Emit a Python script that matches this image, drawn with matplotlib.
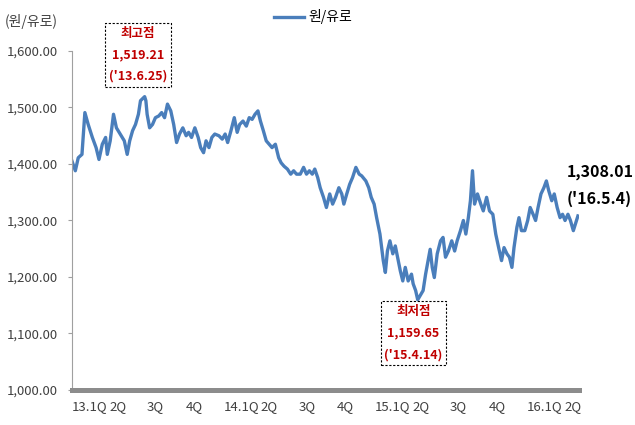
import pandas as pd
import matplotlib
matplotlib.use('Agg')
from matplotlib import pyplot as plt

plt.rcParams['font.family'] = ['Noto Sans CJK KR', 'DejaVu Sans']

# KRW per EUR (days counted from 2013-01-01)
start = pd.Timestamp('2013-01-01')
day_offsets = [0, 8, 15, 24, 31, 39, 49, 58, 65, 73, 81, 85, 92, 100, 107, 116, 126, 133, 139, 146,
               153, 160, 165, 175, 178, 181, 187, 194, 201, 209, 216, 223, 230, 238, 245, 252, 259, 267,
               275, 281, 288, 296, 304, 310, 317, 323, 330, 337, 344, 354, 362, 369, 375, 383, 391, 398,
               404, 412, 420, 427, 434, 441, 448, 454, 461, 468, 475, 482, 490, 498, 504, 511, 519, 527,
               534, 541, 550, 558, 565, 572, 579, 585, 592, 598, 606, 613, 621, 628, 635, 643, 650, 655,
               662, 669, 676, 684, 692, 698, 708, 715, 721, 728, 734, 742, 750, 755, 760, 766, 773, 779,
               786, 791, 797, 803, 810, 818, 822, 828, 833, 846, 852, 858, 863, 868, 873, 880, 888, 894,
               900, 907, 915, 922, 928, 936, 943, 949, 955, 960, 965, 970, 977, 985, 991, 999, 1006, 1014,
               1021, 1028, 1035, 1041, 1048, 1054, 1060, 1065, 1072, 1077, 1083, 1091, 1098, 1104, 1111,
               1117, 1123, 1130, 1137, 1143, 1149, 1156, 1162, 1169, 1176, 1182, 1188, 1195, 1201, 1208,
               1213, 1219]
krw_per_eur = [1405, 1388, 1411, 1417, 1491, 1470, 1447, 1429, 1408, 1435, 1447, 1417, 1441, 1488, 1464,
               1453, 1441, 1417, 1441, 1459, 1470, 1488, 1512, 1519.21, 1512, 1488, 1464, 1470, 1482, 1485,
               1491, 1482, 1506, 1494, 1470, 1438, 1453, 1464, 1450, 1456, 1447, 1464, 1447, 1429, 1420,
               1441, 1429, 1447, 1453, 1450, 1444, 1453, 1438, 1459, 1482, 1456, 1470, 1476, 1467, 1482,
               1479, 1488, 1494, 1476, 1459, 1441, 1435, 1429, 1435, 1411, 1402, 1396, 1391, 1382, 1388,
               1382, 1382, 1394, 1382, 1388, 1382, 1391, 1376, 1358, 1341, 1323, 1347, 1329, 1341, 1358,
               1347, 1329, 1347, 1364, 1376, 1394, 1382, 1379, 1370, 1358, 1341, 1329, 1305, 1276, 1229,
               1208, 1246, 1264, 1241, 1255, 1229, 1211, 1193, 1217, 1193, 1205, 1188, 1176, 1159.65, 1176,
               1205, 1229, 1249, 1217, 1199, 1241, 1264, 1270, 1235, 1246, 1264, 1246, 1264, 1282, 1300,
               1276, 1305, 1335, 1388, 1329, 1347, 1329, 1317, 1341, 1317, 1311, 1276, 1252, 1229, 1252,
               1241, 1235, 1217, 1252, 1288, 1305, 1282, 1282, 1300, 1323, 1311, 1300, 1323, 1347, 1358,
               1370, 1352, 1335, 1347, 1323, 1305, 1311, 1300, 1311, 1300, 1282, 1294, 1308.01]

quarter_starts = ['2013-01-01', '2013-04-01', '2013-07-01', '2013-10-01',
                  '2014-01-01', '2014-04-01', '2014-07-01', '2014-10-01',
                  '2015-01-01', '2015-04-01', '2015-07-01', '2015-10-01',
                  '2016-01-01', '2016-04-01']
quarter_labels = ['13.1Q', '2Q', '3Q', '4Q', '14.1Q', '2Q', '3Q', '4Q',
                  '15.1Q', '2Q', '3Q', '4Q', '16.1Q', '2Q']
y_ticks = [1000, 1100, 1200, 1300, 1400, 1500, 1600]

dates = start + pd.to_timedelta(day_offsets, unit='D')

fig = plt.figure(figsize=(6.35, 4.25), dpi=100)
ax = fig.add_axes([0.1134, 0.0824, 0.798, 0.7976])

line_color = '#4a7ebb'
ax.plot(dates, krw_per_eur, color=line_color, lw=2.4, label='원/유로', solid_joinstyle='round')

ax.set_ylim(1000, 1600)
ax.set_xlim(start, pd.Timestamp('2016-05-06'))

ax.set_yticks(y_ticks)
ax.set_yticklabels(['{:,.2f}'.format(v) for v in y_ticks])
ax.set_xticks(pd.to_datetime(quarter_starts))
ax.set_xticklabels(quarter_labels, ha='left')

ax.tick_params(axis='y', length=3, color='#a0a0a0', pad=7, labelsize=9.5, labelcolor='#404040')
ax.tick_params(axis='x', length=0, pad=7, labelsize=9.5, labelcolor='#404040')

for s in ['top', 'right']:
    ax.spines[s].set_visible(False)
ax.spines['left'].set_color('#a0a0a0')
ax.spines['left'].set_linewidth(0.8)
ax.spines['bottom'].set_color('#8c8c8c')
ax.spines['bottom'].set_linewidth(3.6)
ax.spines['bottom'].set_zorder(3)

ax.text(-0.133, 1.087, '(원/유로)', transform=ax.transAxes, ha='left', va='center',
        fontsize=10, color='#404040')

fig.legend(loc='center', bbox_to_anchor=(0.493, 0.96), frameon=False, fontsize=10,
           handlelength=2.2, handletextpad=0.3)

# annotations
box = dict(boxstyle='square,pad=0.3', fc='white', ec='black', lw=0.8, ls=(0, (2, 1.5)))
hi = krw_per_eur.index(max(krw_per_eur))
lo = krw_per_eur.index(min(krw_per_eur))
ax.annotate("최고점\n{:,.2f}\n('13.6.25)".format(krw_per_eur[hi]),
            xy=(dates[hi], krw_per_eur[hi]), xytext=(-5, 30), textcoords='offset points',
            ha='center', va='center', fontsize=9, color='#c00000', fontweight='bold',
            linespacing=1.85, bbox=box, annotation_clip=False)
ax.annotate("최저점\n{:,.2f}\n('15.4.14)".format(krw_per_eur[lo]),
            xy=(dates[lo], krw_per_eur[lo]), xytext=(-3, -24), textcoords='offset points',
            ha='center', va='center', fontsize=9, color='#c00000', fontweight='bold',
            linespacing=1.85, bbox=box, annotation_clip=False)
ax.annotate("{:,.2f}\n('16.5.4)".format(krw_per_eur[-1]),
            xy=(dates[-1], krw_per_eur[-1]), xytext=(-8, 22), textcoords='offset points',
            ha='left', va='center', fontsize=11.5, color='black', fontweight='bold',
            linespacing=1.8, annotation_clip=False)

plt.savefig('out.png', dpi=100)
